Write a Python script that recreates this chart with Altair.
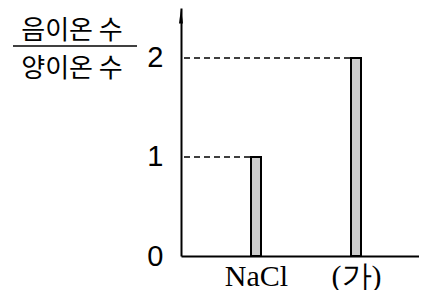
import altair as alt
import pandas as pd

categories = ["NaCl", "(가)"]
ratios = [1, 2]
y_ticks = [0, 1, 2]
title_top = "음이온 수"
title_bottom = "양이온 수"

df = pd.DataFrame({"cat": categories, "ratio": ratios})

xscale = alt.Scale(type="point", domain=categories, padding=0.69, align=0.5435)
yscale = alt.Scale(domain=[0, 2.505], nice=False, zero=True)

base = alt.Chart(df)

xaxis = alt.Axis(title=None, ticks=False, domain=True, domainColor="black", domainWidth=2,
                 labelFont="Liberation Serif", labelFontSize=30, labelColor="black",
                 labelPadding=20, labelAngle=0, labelAlign="center", grid=False)
yaxis = alt.Axis(title=None, ticks=False, domain=True, domainColor="black", domainWidth=2,
                 values=y_ticks, format="d", labelFont="Liberation Sans", labelFontSize=29,
                 labelColor="black", labelPadding=18, grid=False)

bars = base.mark_bar(size=10, fill="#cccccc", stroke="black", strokeWidth=2).encode(
    x=alt.X("cat:N", scale=xscale, axis=xaxis, sort=categories),
    y=alt.Y("ratio:Q", scale=yscale, axis=yaxis),
)

dashes = base.mark_rule(strokeDash=[6, 4], strokeWidth=1.5, color="black", xOffset=-6).encode(
    x=alt.X("cat:N", scale=xscale, sort=categories),
    x2=alt.value(0),
    y=alt.Y("ratio:Q", scale=yscale),
)

arrow = alt.Chart(pd.DataFrame({"a": [0]})).mark_point(
    shape="M0,-1L0.27,1L-0.27,1Z", filled=True, color="black", opacity=1, size=225
).encode(x=alt.value(0), y=alt.value(8))

title_df = pd.DataFrame({"t": [title_top + "\n" + title_bottom]})
title = alt.Chart(title_df).mark_text(
    font="Noto Sans CJK KR", fontSize=26, color="black", align="center",
    baseline="alphabetic", lineBreak="\n", lineHeight=38.5
).encode(text="t:N", x=alt.value(-109), y=alt.value(30.8))

frac = alt.Chart(pd.DataFrame({"a": [0]})).mark_rule(color="black", strokeWidth=1.5).encode(
    x=alt.value(-168), x2=alt.value(-44), y=alt.value(38)
)

chart = alt.layer(dashes, bars, arrow, title, frac).properties(
    width=238, height=248,
    padding={"left": 173, "top": 0, "right": 0, "bottom": 34},
    autosize=alt.AutoSizeParams(type="none"),
).configure_view(stroke=None)

chart.save("out.html", embed_options={"renderer": "svg", "actions": False})
